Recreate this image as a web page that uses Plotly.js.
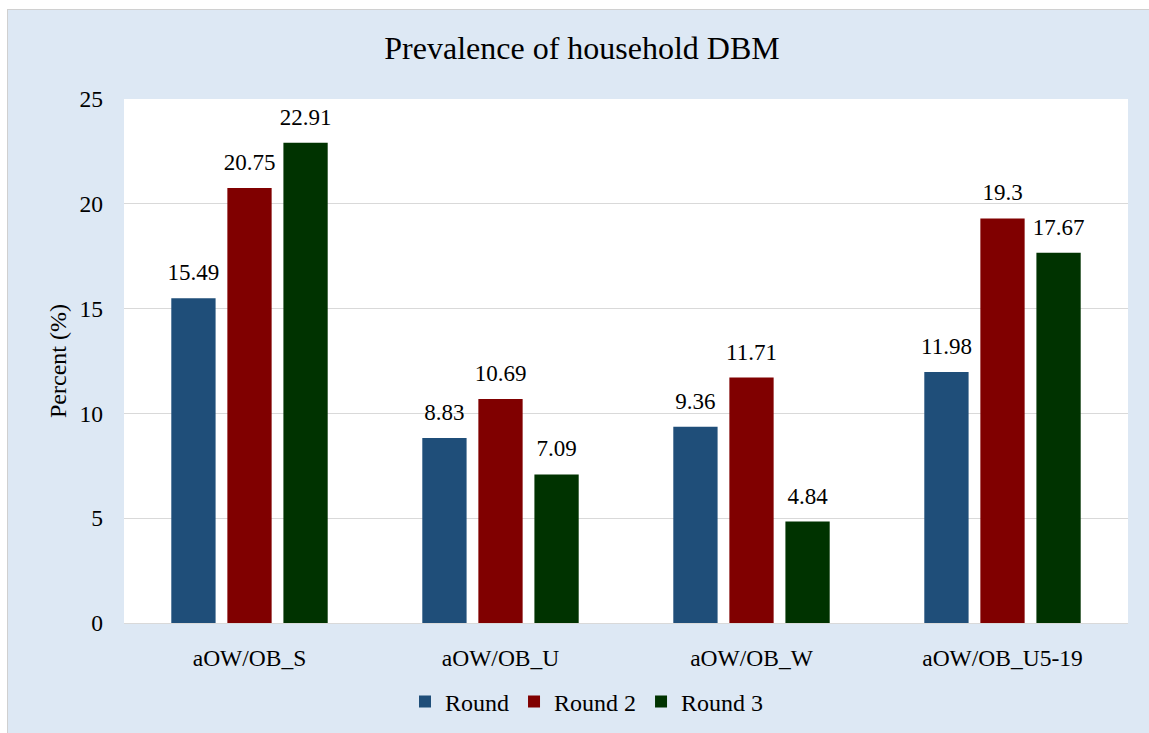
<!DOCTYPE html>
<html>
<head>
<meta charset="utf-8">
<script src="https://cdn.plot.ly/plotly-3.0.1.min.js"></script>
<style>
  html, body { margin: 0; padding: 0; background: #ffffff; overflow: hidden; width: 1149px; height: 733px; }
  #frame { padding: 9px 0 0 7px; }
  #chart { width: 1141px; height: 723px; border-left: 1px solid #d0d0d0; border-top: 1px solid #d0d0d0; }
</style>
</head>
<body>
<div id="frame"><div id="chart"></div></div>
<script>
// Household double burden of malnutrition indicators by survey round
const categories = ["aOW/OB_S", "aOW/OB_U", "aOW/OB_W", "aOW/OB_U5-19"];
const round1 = [15.49, 8.83, 9.36, 11.98];
const round2 = [20.75, 10.69, 11.71, 19.3];
const round3 = [22.91, 7.09, 4.84, 17.67];
const seriesNames = ["Round", "Round 2", "Round 3"];
const seriesColors = ["#1f4e79", "#800000", "#003300"];
const yTicks = [0, 5, 10, 15, 20, 25];

const FAMILY = "Liberation Serif";
function txtFont(size) { return { family: FAMILY, size: size, color: "#000000" }; }

const BARGAP = 0.33;
const BARGROUPGAP = 0.21;
const series = [round1, round2, round3];
const idx = categories.map((_, i) => i);
const slot = (1 - BARGAP) / series.length;

// bars
const barTraces = series.map((vals, k) => ({
  type: "bar",
  name: seriesNames[k],
  x: idx,
  y: vals,
  marker: { color: seriesColors[k] },
  hoverinfo: "y+name"
}));

// value labels sitting above each bar of the group
const labelTraces = series.map((vals, k) => ({
  type: "scatter",
  mode: "markers+text",
  showlegend: false,
  x: idx.map(i => i + (k - (series.length - 1) / 2) * slot),
  y: vals,
  text: vals.map(v => String(v)),
  textposition: "top center",
  textfont: txtFont(23),
  marker: { size: 18, opacity: 0 },
  cliponaxis: false,
  hoverinfo: "skip"
}));

const layout = {
  width: 1141,
  height: 723,
  font: txtFont(23),
  paper_bgcolor: "#dde8f4",
  plot_bgcolor: "#ffffff",
  margin: { l: 116, r: 21, t: 89, b: 110 },
  barmode: "group",
  bargap: BARGAP,
  bargroupgap: BARGROUPGAP,
  title: {
    text: "Prevalence of household DBM",
    font: txtFont(32),
    x: 574 / 1141, xref: "container", xanchor: "center",
    y: 1 - 38 / 723, yref: "container", yanchor: "middle"
  },
  xaxis: {
    range: [-0.5, categories.length - 0.5],
    tickvals: idx,
    ticktext: categories,
    tickfont: txtFont(23.5),
    showgrid: false,
    zeroline: false,
    showline: true,
    linecolor: "#d9d9d9",
    linewidth: 1,
    ticks: "",
    ticklabelstandoff: 14
  },
  yaxis: {
    range: [0, 25],
    tickvals: yTicks,
    ticktext: yTicks.map(String),
    tickfont: txtFont(23.5),
    showgrid: true,
    gridcolor: "#d9d9d9",
    gridwidth: 1,
    zeroline: false,
    showline: false,
    ticks: "",
    ticklabelstandoff: 20,
    title: { text: "Percent (%)", font: txtFont(24), standoff: 6 }
  },
  showlegend: true,
  legend: {
    orientation: "h",
    xref: "container", x: 579 / 1141, xanchor: "center",
    yref: "container", y: 1 - 692 / 723, yanchor: "middle",
    font: txtFont(24),
    bgcolor: "rgba(0,0,0,0)",
    itemclick: false
  }
};

Plotly.newPlot("chart", barTraces.concat(labelTraces), layout, { displayModeBar: false, staticPlot: true });
</script>
</body>
</html>
